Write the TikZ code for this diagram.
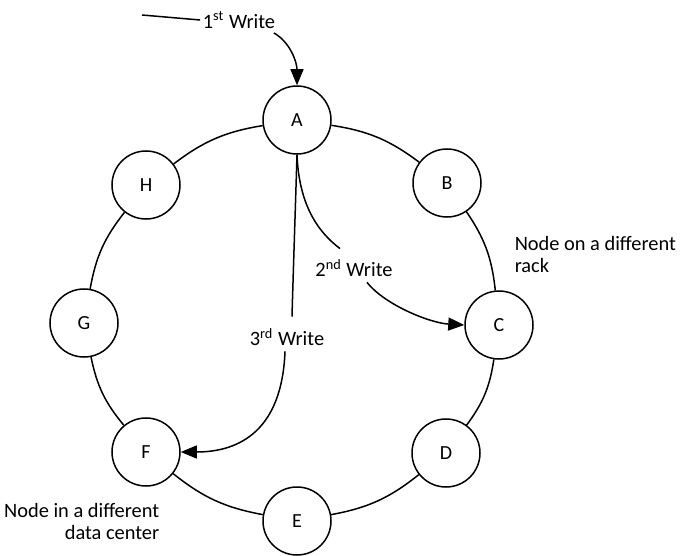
\documentclass[tikz,border=0pt]{standalone}
\usepackage{fontspec}
\setmainfont{Carlito}
\usetikzlibrary{arrows.meta,calc}
\begin{document}
\begin{tikzpicture}[x=0.5pt,y=-0.5pt,line width=0.75pt,
  ringnode/.style={circle,draw,fill=white,minimum size=34pt,inner sep=0pt,font=\fontsize{10}{11}\selectfont},
  ring/.style={bend left=14},
  lbl/.style={font=\fontsize{10.2}{11}\selectfont,inner sep=1pt},
  arr/.style={-{Triangle[length=8pt,width=6.5pt]}}]
\useasboundingbox (0,0) rectangle (681,556);
% ring nodes
\node[ringnode] (A) at (297,120) {A};
\node[ringnode] (B) at (447,183) {B};
\node[ringnode] (C) at (499,325) {C};
\node[ringnode] (D) at (446,453) {D};
\node[ringnode] (E) at (297,521) {E};
\node[ringnode] (F) at (146,452) {F};
\node[ringnode] (G) at (84,323) {G};
\node[ringnode] (H) at (146,185) {H};
% ring
\draw (A) to[ring] (B);
\draw (B) to[ring] (C);
\draw (C) to[ring] (D);
\draw (D) to[ring] (E);
\draw (E) to[ring] (F);
\draw (F) to[ring] (G);
\draw (G) to[ring] (H);
\draw (H) to[ring] (A);
% labels
\node[lbl] (w1) at (239,20) {1\textsuperscript{st} Write};
\node[lbl] (w2) at (354,268) {2\textsuperscript{nd} Write};
\node[lbl] (w3) at (287,337) {3\textsuperscript{rd} Write};
\coordinate (s1) at (142,15);
\node[lbl,align=left,anchor=west] (n1) at (512,254) {Node on a different\\rack};
\node[lbl,align=right,anchor=east] (n2) at (162,521) {Node in a different\\data center};
% writes
\draw (s1) -- (w1.west);
\draw[arr] ($(w1.south east)+(-4,2)$) .. controls (290,42) and (297,62) .. (A.north);
\draw (A.south) .. controls (299,205) and (318,232) .. ($(w2.north)+(-14,-8)$);
\draw[arr] ($(w2.south)+(13,3)$) .. controls (385,305) and (430,323) .. (C.west);
\draw (A.south) .. controls (295,220) and (293,280) .. ($(w3.north)+(5,-9)$);
\draw[arr] ($(w3.south)+(-2,3)$) .. controls (282,430) and (240,452) .. (F.east);
\end{tikzpicture}
\end{document}
